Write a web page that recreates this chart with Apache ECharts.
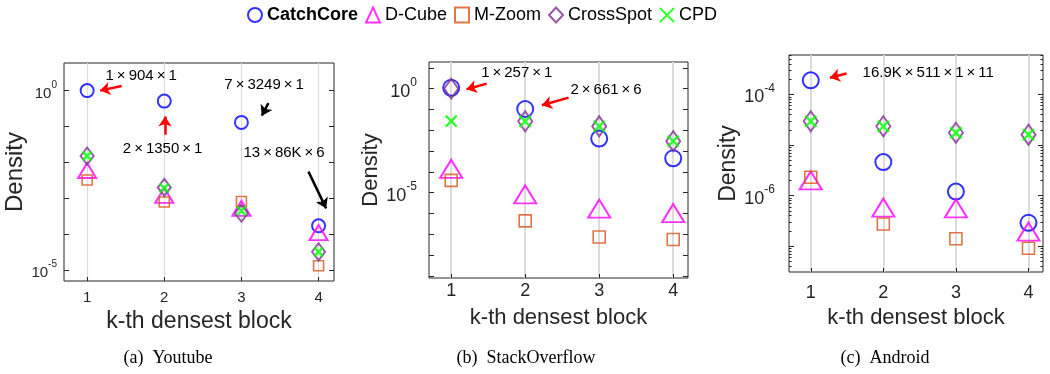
<!DOCTYPE html>
<html>
<head>
<meta charset="utf-8">
<script src="https://cdn.jsdelivr.net/npm/echarts@6/dist/echarts.min.js"></script>
<style>html,body{margin:0;padding:0;background:#fff;}#c{width:1050px;height:374px;}</style>
</head>
<body>
<div id="c"></div>
<script>
// ---- data ----
const blocks = [1, 2, 3, 4];
const methods = ['CatchCore', 'D-Cube', 'M-Zoom', 'CrossSpot', 'CPD'];
const panelTitles = ['(a)  Youtube', '(b)  StackOverflow', '(c)  Android'];

// Youtube
const ytCatchCore = [1.0, 0.51, 0.13, 1.7e-4];
const ytDCube     = [5.9e-3, 1.2e-3, 5.2e-4, 1.1e-4];
const ytMZoom     = [3.2e-3, 7.8e-4, 8.1e-4, 1.3e-5];
const ytCrossSpot = [1.5e-2, 2.0e-3, 3.8e-4, 3.2e-5];
const ytCPD       = [1.5e-2, 1.9e-3, 4.4e-4, 3.2e-5];
// StackOverflow
const soCatchCore = [1.1, 0.105, 4.0e-3, 4.5e-4];
const soDCube     = [1.4e-4, 8.3e-6, 1.7e-6, 1.05e-6];
const soMZoom     = [3.9e-5, 4.4e-7, 7.4e-8, 5.6e-8];
const soCrossSpot = [1.0, 2.7e-2, 1.55e-2, 3.0e-3];
const soCPD       = [2.75e-2, 2.7e-2, 1.55e-2, 3.0e-3];
// Android
const anCatchCore = [1.9e-4, 4.6e-6, 1.2e-6, 2.9e-7];
const anDCube     = [2.0e-6, 5.8e-7, 5.6e-7, 1.95e-7];
const anMZoom     = [2.3e-6, 2.75e-7, 1.4e-7, 9.1e-8];
const anCrossSpot = [2.95e-5, 2.35e-5, 1.75e-5, 1.6e-5];
const anCPD       = [2.95e-5, 2.35e-5, 1.75e-5, 1.6e-5];

// y tick labels (exponents of 10)
const ytLabelExp = [-5, 0];
const soLabelExp = [-5, 0];
const anLabelExp = [-6, -4];

// annotations: [text, x, y] and arrows [x1, y1, x2, y2, colour]
const ytNotes = [['1\u2009×\u2009904\u2009×\u20091', 1.70, 2.63], ['2\u2009×\u20091350\u2009×\u20091', 1.978, 0.024],
                 ['7\u2009×\u20093249\u2009×\u20091', 3.294, 1.45], ['13\u2009×\u200986K\u2009×\u20096', 3.553, 0.018]];
const ytArrows = [[1.448, 1.35, 1.167, 1.0, '#ff0000'], [2.01, 0.059, 2.01, 0.19, '#ff0000'],
                  [3.35, 0.447, 3.264, 0.2, '#000000'], [3.869, 5.5e-3, 4.098, 5.2e-4, '#000000']];
const soNotes = [['1\u2009×\u2009257\u2009×\u20091', 1.886, 5.9], ['2\u2009×\u2009661\u2009×\u20096', 3.093, 0.83]];
const soArrows = [[1.479, 1.74, 1.207, 0.93, '#ff0000'], [2.586, 0.37, 2.225, 0.158, '#ff0000']];
const anNotes = [['16.9K\u2009×\u2009511\u2009×\u20091\u2009×\u200911', 2.619, 2.7e-4]];
const anArrows = [[1.493, 2.6e-4, 1.263, 2.14e-4, '#ff0000']];

// ---- styling ----
const colors = {'CatchCore': '#0000ff', 'D-Cube': '#ff00ff', 'M-Zoom': '#d95319', 'CrossSpot': '#7e2f8e', 'CPD': '#00ff00'};
const symbolShapes = {
  'CatchCore': 'circle', 'D-Cube': 'triangle', 'M-Zoom': 'rect', 'CrossSpot': 'diamond',
  'CPD': 'path://M0,0L10,10M10,0L0,10'
};
const symbolSizesSmall = {'CatchCore': 13, 'D-Cube': [18, 15], 'M-Zoom': 10, 'CrossSpot': [13, 17], 'CPD': 9};
const symbolSizesLarge = {'CatchCore': 16, 'D-Cube': [22, 18], 'M-Zoom': 12, 'CrossSpot': [14, 20], 'CPD': 11};
const borderWidths = {'CatchCore': 2, 'D-Cube': 2, 'M-Zoom': 1.6, 'CrossSpot': 2, 'CPD': 2.5};
const axisColor = '#262626';
const FONT = 'Liberation Sans';

const panels = [
  {grid: {left: 64, top: 63, width: 270, height: 218}, ymin: Math.pow(10, -5.31), ymax: Math.pow(10, 0.77),
   decades: [-5, 0], labelExp: ytLabelExp, tickFont: 15, supFont: 10, nameFont: 23, yNameFont: 24,
   xLabelMargin: 9, xNameGap: 29, yLabelMargin: 7, yNameGap: 37, minor: false, splitW: 1.2, sizes: symbolSizesSmall,
   data: [ytCatchCore, ytDCube, ytMZoom, ytCrossSpot, ytCPD], notes: ytNotes, arrows: ytArrows},
  {grid: {left: 429, top: 62, width: 259, height: 216}, ymin: Math.pow(10, -9.1), ymax: Math.pow(10, 1.28),
   decades: [-9, 1], labelExp: soLabelExp, tickFont: 18, supFont: 12, nameFont: 22, yNameFont: 22,
   xLabelMargin: 4, xNameGap: 29, yLabelMargin: 12, yNameGap: 41, minor: false, splitW: 2, sizes: symbolSizesLarge,
   data: [soCatchCore, soDCube, soMZoom, soCrossSpot, soCPD], notes: soNotes, arrows: soArrows},
  {grid: {left: 789, top: 55, width: 254, height: 217}, ymin: Math.pow(10, -7.51), ymax: Math.pow(10, -3.22),
   decades: [-7, -4], labelExp: anLabelExp, tickFont: 18, supFont: 12, nameFont: 22, yNameFont: 23,
   xLabelMargin: 12, xNameGap: 35, yLabelMargin: 14, yNameGap: 46, minor: true, splitW: 2, sizes: symbolSizesLarge,
   data: [anCatchCore, anDCube, anMZoom, anCrossSpot, anCPD], notes: anNotes, arrows: anArrows}
];

const grids = [], xAxes = [], yAxes = [], series = [], graphics = [];
const titleX = [168, 526, 885];

panels.forEach((p, pi) => {
  grids.push(Object.assign({show: true, borderColor: axisColor, borderWidth: 1, backgroundColor: '#fff'}, p.grid));
  xAxes.push({
    type: 'value', gridIndex: pi, min: 0.7, max: 4.2,
    name: 'k-th densest block', nameLocation: 'middle', nameGap: p.xNameGap,
    nameTextStyle: {fontFamily: FONT, fontSize: p.nameFont, color: axisColor},
    axisLine: {show: false},
    axisTick: {show: true, inside: true, length: 4, customValues: blocks, lineStyle: {color: axisColor}},
    axisLabel: {show: true, customValues: blocks, margin: p.xLabelMargin, fontFamily: FONT, fontSize: p.tickFont, color: axisColor},
    splitLine: {show: true, lineStyle: {color: '#dcdcdc', width: p.splitW}}
  });
  const decTicks = [];
  for (let e = p.decades[0]; e <= p.decades[1]; e++) decTicks.push(Math.pow(10, e));
  const labelVals = p.labelExp.map(e => Math.pow(10, e));
  const baseY = {
    type: 'log', logBase: 10, gridIndex: pi, min: p.ymin, max: p.ymax,
    axisLine: {show: false}, splitLine: {show: false}
  };
  const mainIdx = yAxes.length;
  yAxes.push(Object.assign({}, baseY, {
    position: 'left',
    name: 'Density', nameLocation: 'middle', nameGap: p.yNameGap, nameRotate: 90,
    nameTextStyle: {fontFamily: FONT, fontSize: p.yNameFont, color: axisColor},
    axisTick: {show: true, inside: true, length: 5, customValues: decTicks, lineStyle: {color: axisColor}},
    axisLabel: {
      show: true, customValues: labelVals, margin: p.yLabelMargin,
      formatter: v => '{b|10}{s|' + Math.round(Math.log10(v)) + '}',
      rich: {
        b: {fontFamily: FONT, fontSize: p.tickFont, color: axisColor, lineHeight: p.tickFont + 6, verticalAlign: 'bottom'},
        s: {fontFamily: FONT, fontSize: p.supFont, color: axisColor, lineHeight: p.supFont, verticalAlign: 'top'}
      }
    }
  }));
  yAxes.push(Object.assign({}, baseY, {
    position: 'right',
    axisTick: {show: true, inside: true, length: 5, customValues: decTicks, lineStyle: {color: axisColor}},
    axisLabel: {show: false}
  }));
  if (p.minor) {
    const minorVals = [];
    for (let e = p.decades[0] - 1; e <= p.decades[1] + 1; e++)
      for (let m = 2; m <= 9; m++) minorVals.push(m * Math.pow(10, e));
    ['left', 'right'].forEach(pos => yAxes.push(Object.assign({}, baseY, {
      position: pos,
      axisTick: {show: true, inside: true, length: 2.5, customValues: minorVals, lineStyle: {color: axisColor}},
      axisLabel: {show: false}
    })));
  }

  methods.forEach((m, mi) => {
    const s = {
      type: 'scatter', name: m, xAxisIndex: pi, yAxisIndex: mainIdx,
      symbol: symbolShapes[m], symbolSize: p.sizes[m],
      itemStyle: {color: 'rgba(0,0,0,0)', borderColor: colors[m], borderWidth: borderWidths[m]},
      emphasis: {disabled: true},
      data: blocks.map((b, i) => [b, p.data[mi][i]]),
      z: 3 + mi
    };
    if (mi === 0) {
      s.markLine = {
        silent: true, animation: false, symbol: ['none', 'arrow'], symbolSize: 10,
        label: {show: false},
        data: p.arrows.map(a => [
          {coord: [a[0], a[1]], lineStyle: {color: a[4], width: 2.5, type: 'solid'}},
          {coord: [a[2], a[3]]}
        ])
      };
      s.markPoint = {
        silent: true, animation: false, symbol: 'rect', symbolSize: 1,
        itemStyle: {color: 'rgba(0,0,0,0)'},
        label: {show: true, position: 'inside', fontFamily: FONT, fontSize: 15, color: '#000'},
        data: p.notes.map(n => ({coord: [n[1], n[2]], label: {formatter: n[0]}}))
      };
    }
    series.push(s);
  });

  graphics.push({
    type: 'text', x: titleX[pi], y: 358,
    style: {text: panelTitles[pi], fontFamily: 'Liberation Serif', fontSize: 18, fill: '#000', textAlign: 'center', textVerticalAlign: 'middle'}
  });
});

const chart = echarts.init(document.getElementById('c'), null, {renderer: 'canvas'});
chart.setOption({
  animation: false,
  backgroundColor: '#fff',
  legend: {
    data: methods, left: 247, top: 6, itemWidth: 14, itemHeight: 15, itemGap: 7, padding: 0,
    formatter: n => n === 'CatchCore' ? '{bb|CatchCore}' : n,
    textStyle: {fontFamily: FONT, fontSize: 18, color: '#000',
      rich: {bb: {fontFamily: FONT, fontSize: 18, fontWeight: 'bold', color: '#000'}}}
  },
  grid: grids, xAxis: xAxes, yAxis: yAxes, series: series, graphic: graphics
});
</script>
</body>
</html>
